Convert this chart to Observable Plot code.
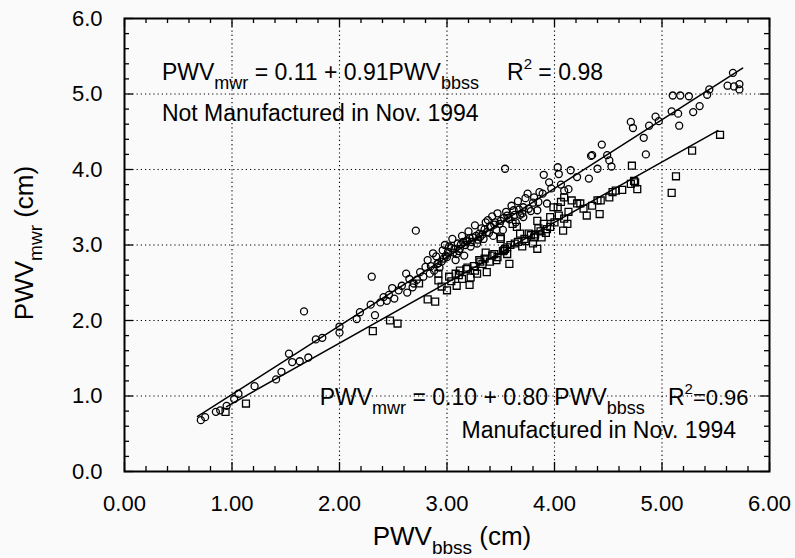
<!DOCTYPE html>
<html>
<head>
<meta charset="utf-8">
<script src="https://cdn.jsdelivr.net/npm/d3@7"></script>
<script src="https://cdn.jsdelivr.net/npm/@observablehq/plot@0.6"></script>
<style>
  html, body { margin: 0; padding: 0; background: #fafafa; }
</style>
</head>
<body>
<div id="chart"></div>
<script>
// ---- Data: Not Manufactured in Nov. 1994 (circles) ----
const nmX = [0.71,0.75,0.85,0.89,0.95,1.02,1.06,1.21,1.41,1.46,1.53,1.56,1.63,1.71,1.67,1.78,1.84,2.00,2.00,2.16,2.19,2.29,2.30,2.33,2.38,2.41,2.44,2.46,2.49,2.51,2.55,2.58,2.62,2.63,2.65,2.68,2.69,2.72,2.71,2.75,2.78,2.80,2.82,2.84,2.85,2.87,2.88,2.90,2.91,2.93,2.95,2.96,2.98,3.00,3.02,3.05,3.06,3.08,3.10,3.12,3.14,3.16,3.18,3.20,3.22,3.24,3.26,3.28,3.30,3.32,3.34,3.36,3.37,3.40,3.42,3.43,3.45,3.47,3.50,3.52,3.54,3.55,3.57,3.60,3.62,3.64,3.66,3.68,3.71,3.71,3.73,3.75,3.78,3.81,3.84,3.86,3.89,3.90,3.93,3.95,3.97,4.03,4.04,4.06,4.09,4.13,4.15,4.21,4.32,4.34,4.35,4.40,4.44,4.49,4.51,4.53,4.71,4.73,4.83,4.85,4.88,4.94,4.97,5.09,5.10,5.15,5.16,5.17,5.25,5.29,5.35,5.42,5.44,5.61,5.66,5.67,5.72,5.72,
  2.97,3.01,3.04,3.07,3.11,3.13,3.17,3.19,3.23,3.27,3.29,3.33,3.35,3.39,3.41,3.46,3.49,3.53,3.58,3.63,3.67,3.70,3.76,3.80,3.85,2.92,2.99,3.09,3.15,3.21,3.31,3.38,3.44,3.56];
const nmY = [0.68,0.72,0.79,0.81,0.87,0.96,1.03,1.13,1.22,1.32,1.56,1.45,1.46,1.51,2.12,1.75,1.77,1.92,1.84,2.02,2.11,2.21,2.58,2.07,2.24,2.31,2.26,2.34,2.43,2.29,2.40,2.46,2.62,2.37,2.55,2.44,2.49,2.54,3.19,2.64,2.58,2.71,2.80,2.62,2.72,2.89,2.66,2.85,2.75,2.70,2.78,2.93,3.00,2.84,2.98,3.08,2.90,2.80,3.02,2.95,3.12,2.86,3.05,3.18,2.98,3.10,3.26,3.02,3.15,3.22,3.08,3.30,3.17,3.25,3.38,3.12,3.30,3.42,3.32,3.20,4.01,3.44,3.36,3.52,3.46,3.30,3.58,3.40,3.50,3.37,3.62,3.68,3.45,3.63,3.46,3.70,3.68,3.93,3.55,3.83,3.75,4.03,3.94,3.80,3.72,3.74,3.99,3.90,3.88,4.18,4.19,4.01,4.33,4.19,4.12,4.04,4.63,4.55,4.42,4.20,4.58,4.70,4.64,4.77,4.98,4.74,4.58,4.98,4.97,4.76,4.84,4.99,5.06,5.11,5.28,5.10,5.13,5.06,
  2.82,2.91,2.96,2.95,2.92,3.01,3.00,3.06,3.04,3.12,3.07,3.14,3.21,3.16,3.24,3.20,3.28,3.36,3.34,3.40,3.47,3.42,3.48,3.56,3.57,2.76,2.86,2.88,3.04,3.09,3.11,3.33,3.27,3.39];

// ---- Data: Manufactured in Nov. 1994 (squares) ----
const mX = [0.94,1.13,2.31,2.47,2.54,2.74,2.82,2.89,2.92,2.92,2.95,3.00,3.04,3.08,3.09,3.11,3.14,3.18,3.21,3.22,3.25,3.28,3.30,3.33,3.36,3.37,3.40,3.44,3.47,3.50,3.50,3.52,3.54,3.56,3.56,3.58,3.61,3.63,3.65,3.68,3.70,3.72,3.76,3.78,3.80,3.81,3.84,3.84,3.85,3.88,3.90,3.93,3.96,3.96,3.99,4.03,4.04,4.06,4.08,4.09,4.09,4.12,4.16,4.21,4.24,4.30,4.40,4.42,4.43,4.51,4.54,4.57,4.63,4.71,4.72,4.74,4.75,4.77,5.09,5.13,5.28,5.54,
  3.02,3.12,3.19,3.26,3.31,3.35,3.42,3.46,3.53,3.59,3.66,3.73,3.82,3.87,3.92,4.00,4.13,4.27,4.35];
const mY = [0.79,0.90,1.86,2.00,1.96,2.49,2.28,2.25,2.53,2.62,2.45,2.40,2.52,2.62,2.46,2.60,2.55,2.68,2.47,2.57,2.72,2.62,2.80,2.75,2.90,2.64,2.78,2.88,2.84,3.10,3.08,2.92,2.95,2.88,2.97,2.75,3.28,3.02,3.24,3.15,2.98,3.08,3.15,3.13,3.02,3.10,2.95,3.32,3.22,3.10,3.28,3.21,3.24,3.37,3.50,3.50,3.39,3.57,3.19,3.35,3.63,3.28,3.59,3.55,3.55,3.39,3.59,3.41,3.59,3.63,3.70,3.72,3.73,3.81,4.05,3.85,3.83,3.74,3.69,3.91,4.25,4.46,
  2.58,2.66,2.70,2.66,2.78,2.82,2.86,2.80,2.93,3.00,3.04,3.05,3.14,3.18,3.16,3.30,3.44,3.48,3.52];

// ---- Regression fits (as printed on the chart) ----
const fitNames = ["Not Manufactured", "Manufactured"];
const fitIntercept = [0.11, 0.10];
const fitSlope = [0.91, 0.80];
const fitStart = [0.68, 0.95];
const fitEnd = [5.75, 5.52];

// ---- Ticks ----
const xMajor = [0, 1, 2, 3, 4, 5, 6];
const yMajor = [0, 1, 2, 3, 4, 5, 6];
const xMinor = d3.range(0, 31).map(i => i / 5).filter(v => !xMajor.includes(v));
const yMinor = d3.range(0, 31).map(i => i / 5).filter(v => !yMajor.includes(v));
const gridVals = [1, 2, 3, 4, 5];

const nm = nmX.map((x, i) => ({x, y: nmY[i]}));
const m = mX.map((x, i) => ({x, y: mY[i]}));
const fitLines = fitNames.flatMap((name, i) => [
  {name, x: fitStart[i], y: fitIntercept[i] + fitSlope[i] * fitStart[i]},
  {name, x: fitEnd[i], y: fitIntercept[i] + fitSlope[i] * fitEnd[i]}
]);

const FONT = "'Liberation Sans', Arial, Helvetica, sans-serif";
// tick lengths in data units (minor / major)
const tlx = 5 / 75.5, TLx = 9 / 75.5;
const tly = 5 / 107.5, TLy = 9 / 107.5;

const svg = Plot.plot({
  width: 795,
  height: 558,
  marginLeft: 124,
  marginRight: 26,
  marginTop: 18,
  marginBottom: 87,
  style: {fontFamily: FONT, background: "#fafafa", color: "black"},
  x: {domain: [0, 6], label: null},
  y: {domain: [0, 6], label: null},
  marks: [
    Plot.gridX(gridVals, {stroke: "black", strokeOpacity: 1, strokeWidth: 1.1, strokeDasharray: "1.2,3"}),
    Plot.gridY(gridVals, {stroke: "black", strokeOpacity: 1, strokeWidth: 1.1, strokeDasharray: "1.2,3"}),
    Plot.ruleX(xMinor, {x: d => d, y1: 0, y2: tlx, stroke: "black", strokeWidth: 1.3}),
    Plot.ruleX(xMajor, {x: d => d, y1: 0, y2: TLx, stroke: "black", strokeWidth: 1.3}),
    Plot.ruleX(xMinor, {x: d => d, y1: 6, y2: 6 - tlx, stroke: "black", strokeWidth: 1.3}),
    Plot.ruleX(xMajor, {x: d => d, y1: 6, y2: 6 - TLx, stroke: "black", strokeWidth: 1.3}),
    Plot.ruleY(yMinor, {y: d => d, x1: 0, x2: tly, stroke: "black", strokeWidth: 1.3}),
    Plot.ruleY(yMajor, {y: d => d, x1: 0, x2: TLy, stroke: "black", strokeWidth: 1.3}),
    Plot.ruleY(yMinor, {y: d => d, x1: 6, x2: 6 - tly, stroke: "black", strokeWidth: 1.3}),
    Plot.ruleY(yMajor, {y: d => d, x1: 6, x2: 6 - TLy, stroke: "black", strokeWidth: 1.3}),
    Plot.axisX({ticks: xMajor, tickFormat: d => d.toFixed(2), tickSize: 0, tickPadding: 24, fontSize: 22}),
    Plot.axisY({ticks: yMajor, tickFormat: d => d.toFixed(1), tickSize: 0, tickPadding: 22, fontSize: 22}),
    Plot.line(fitLines, {x: "x", y: "y", z: "name", stroke: "black", strokeWidth: 1.5}),
    Plot.dot(nm, {x: "x", y: "y", r: 3.5, stroke: "black", strokeWidth: 1.3, fill: "none"}),
    Plot.dot(m, {x: "x", y: "y", r: 3.9, symbol: "square", stroke: "black", strokeWidth: 1.3, fill: "none"}),
    Plot.frame({stroke: "black", strokeWidth: 2})
  ]
});

document.getElementById("chart").appendChild(svg);

const sx = svg.scale("x"), sy = svg.scale("y");
const g = d3.select(svg).append("g")
  .attr("font-family", FONT).attr("fill", "black").attr("text-anchor", "start")
  .attr("stroke", "none");

// parts: [text, size, dy, xOverride]
function rich(t, parts) {
  parts.forEach(([s, size, dy, xo]) => {
    const sp = t.append("tspan").attr("font-size", size).attr("dy", dy || 0).text(s);
    if (xo != null) sp.attr("x", sx.apply(xo));
  });
  return t;
}

// Annotation 1
rich(g.append("text").attr("x", sx.apply(0.353)).attr("y", sy.apply(5.18)), [
  ["PWV", 23], ["mwr", 18, 9], ["\u00a0= 0.11 + 0.91PWV", 23, -9], ["bbss", 18, 9],
  ["R", 23, -9, 3.563], ["2", 15, -11], ["\u00a0= 0.98", 23, 11]
]);
g.append("text").attr("x", sx.apply(0.353)).attr("y", sy.apply(4.64)).attr("font-size", 23)
  .text("Not Manufactured in Nov. 1994");

// Annotation 2
rich(g.append("text").attr("x", sx.apply(1.82)).attr("y", sy.apply(0.874)), [
  ["PWV", 23], ["mwr", 18, 9], ["\u00a0= 0.10 + 0.80 PWV", 23, -9], ["bbss", 18, 9],
  ["R", 23, -9, 5.06], ["2", 15, -11], ["=0.96", 22, 11]
]);
g.append("text").attr("x", sx.apply(3.14)).attr("y", sy.apply(0.437)).attr("font-size", 23)
  .text("Manufactured in Nov. 1994");

// X axis label
rich(g.append("text").attr("x", 452).attr("y", 545).attr("text-anchor", "middle"), [
  ["PWV", 26], ["bbss", 19, 9], ["\u00a0(cm)", 26, -9]
]);
// Y axis label
rich(g.append("text").attr("transform", "translate(33,243) rotate(-90)").attr("text-anchor", "middle"), [
  ["PWV", 26], ["mwr", 19, 9], ["\u00a0(cm)", 26, -9]
]);
</script>
</body>
</html>
